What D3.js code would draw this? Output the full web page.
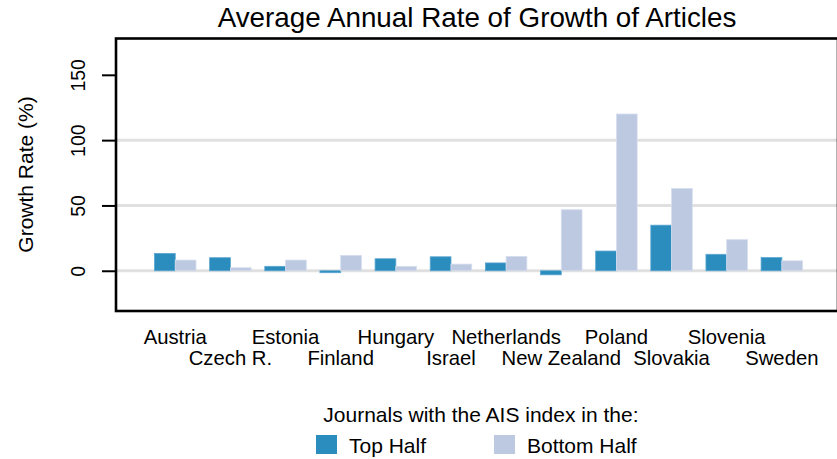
<!DOCTYPE html>
<html>
<head>
<meta charset="utf-8">
<script src="https://cdn.jsdelivr.net/npm/d3@7"></script>
<style>
  html, body { margin: 0; padding: 0; background: #fff; }
  svg { display: block; }
  text { font-family: "Liberation Sans", Arial, Helvetica, sans-serif; fill: #000; }
</style>
</head>
<body>
<svg id="chart" width="837" height="459"></svg>
<script>
const countries = ["Austria","Czech R.","Estonia","Finland","Hungary","Israel","Netherlands","New Zealand","Poland","Slovakia","Slovenia","Sweden"];
const topHalf = [13.3, 10.0, 3.4, -1.5, 9.2, 10.7, 6.0, -3.1, 15.1, 34.9, 12.6, 10.1];
const bottomHalf = [8.2, 2.3, 8.2, 11.8, 3.4, 5.1, 11.0, 46.7, 120.0, 63.0, 23.8, 7.6];
const seriesNames = ["Top Half", "Bottom Half"];
const seriesColors = ["#2b8cbe", "#bdc9e1"];
const yTicks = [0, 50, 100, 150];
const gridValues = [0, 50, 100];
const titleText = "Average Annual Rate of Growth of Articles";
const yLabel = "Growth Rate (%)";
const legendTitle = "Journals with the AIS index in the:";

const svg = d3.select("#chart");
const box = { left: 116, right: 838, top: 38.5, bottom: 311 };

const y = d3.scaleLinear().domain([-30.8, 177.8]).range([box.bottom, box.top]);
const x = d3.scaleBand().domain(countries).range([154.5, 802.6]).paddingInner(0.2475).paddingOuter(0);
const xs = d3.scaleBand().domain(seriesNames).range([0, x.bandwidth()]).padding(0);

// gridlines
svg.append("g").selectAll("line").data(gridValues).join("line")
  .attr("x1", box.left).attr("x2", box.right)
  .attr("y1", d => y(d)).attr("y2", d => y(d))
  .attr("stroke", "#e0e0e0").attr("stroke-width", 3);

// bars
const rows = countries.map((c, i) => ({ c, vals: [topHalf[i], bottomHalf[i]] }));
const g = svg.append("g");
rows.forEach(r => {
  r.vals.forEach((v, j) => {
    g.append("rect")
      .attr("x", x(r.c) + xs(seriesNames[j]))
      .attr("width", xs.bandwidth())
      .attr("y", y(Math.max(0, v)))
      .attr("height", Math.abs(y(v) - y(0)))
      .attr("fill", seriesColors[j])
      .attr("stroke", j === 0 ? "#5aa6d0" : "#d6deee")
      .attr("stroke-width", 0.8);
  });
});

// box
svg.append("rect")
  .attr("x", box.left).attr("y", box.top)
  .attr("width", box.right - box.left).attr("height", box.bottom - box.top)
  .attr("fill", "none").attr("stroke", "#000").attr("stroke-width", 2.6);

// y axis ticks & labels
const yAxis = d3.axisLeft(y).tickValues(yTicks).tickSize(14).tickSizeOuter(0).tickFormat(d3.format("d"));
const ya = svg.append("g").attr("transform", `translate(${box.left},0)`).call(yAxis);
ya.select(".domain").remove();
ya.selectAll(".tick line").attr("stroke", "#000").attr("stroke-width", 2);
ya.selectAll(".tick text").remove();
ya.selectAll(".tick").append("text")
  .attr("transform", "translate(-31,0) rotate(-90)")
  .attr("text-anchor", "middle")
  .attr("font-size", 19.5)
  .text(d => d3.format("d")(d));

// x labels (two staggered rows)
svg.append("g").selectAll("text").data(countries).join("text")
  .attr("x", d => x(d) + x.bandwidth() / 2)
  .attr("y", (d, i) => i % 2 === 0 ? 344 : 364.5)
  .attr("text-anchor", "middle")
  .attr("font-size", 20.3)
  .text(d => d);

// title
svg.append("text")
  .attr("x", (box.left + box.right) / 2).attr("y", 26.5)
  .attr("text-anchor", "middle").attr("font-size", 27.8)
  .text(titleText);

// y label
svg.append("text")
  .attr("transform", `translate(33,174.5) rotate(-90)`)
  .attr("text-anchor", "middle").attr("font-size", 21)
  .text(yLabel);

// legend
svg.append("text").attr("x", 323.3).attr("y", 421.5).attr("font-size", 21).text(legendTitle);
const legendX = [316, 494];
seriesNames.forEach((s, j) => {
  svg.append("rect").attr("x", legendX[j]).attr("y", 435).attr("width", 21).attr("height", 19)
    .attr("fill", seriesColors[j]);
  svg.append("text").attr("x", legendX[j] + 33).attr("y", 453).attr("font-size", 21).text(s);
});
</script>
</body>
</html>
